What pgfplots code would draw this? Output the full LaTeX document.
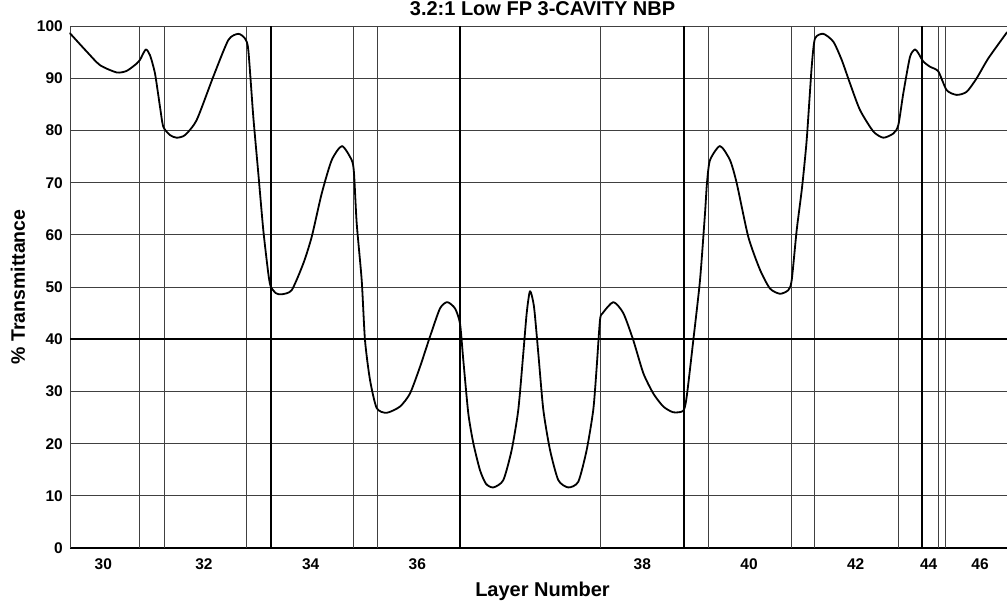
\documentclass[border=0pt]{standalone}
\usepackage{pgfplots}
\pgfplotsset{compat=1.18}
\usepackage{fontspec}
\setmainfont{Liberation Sans}
\begin{document}
\begin{tikzpicture}
\begin{axis}[
  scale only axis,
  width=937pt, height=522pt,
  xmin=70, xmax=1007, ymin=0, ymax=100,
  axis x line=bottom, axis y line=left,
  x axis line style={-, line width=1.6pt, black},
  y axis line style={-, line width=0.9pt, black!75},
  major tick length=0pt,
  ytick={0,10,...,100},
  xtick={103.3,204,310.7,417.3,642.3,749,855.7,928.7,980},
  xticklabels={30,32,34,36,38,40,42,44,46},
  extra x ticks={139.7,164,246.7,353.7,377.7,600.7,708,791,814.7,898.3,938.3,945.3},
  extra x tick labels={},
  extra x tick style={grid=major, major grid style={black!75, line width=0.9pt}},
  ymajorgrids,
  major grid style={black!75, line width=0.9pt},
  /pgf/number format/assume math mode=true,
  ticklabel style={font=\bfseries\fontsize{15.5}{16}\selectfont, inner sep=0pt, text height=11pt, text depth=0pt},
  yticklabel style={anchor=east, xshift=-7pt},
  xticklabel style={anchor=north, yshift=-10pt},
  title={3.2:1 Low FP 3-CAVITY NBP},
  title style={font=\bfseries\fontsize{20}{22}\selectfont, at={(axis description cs:0.5,1)}, anchor=center, yshift=11.5pt, xshift=4pt, inner sep=0pt},
  xlabel={Layer Number},
  ylabel={\% Transmittance},
  every axis x label/.style={at={(axis description cs:0.5,0)}, anchor=center, yshift=-43pt, xshift=4pt, font=\bfseries\fontsize{20}{22}\selectfont, inner sep=0pt},
  every axis y label/.style={at={(axis description cs:0,0.5)}, rotate=90, anchor=center, yshift=52pt, font=\bfseries\fontsize{19.5}{21}\selectfont, inner sep=0pt},
  clip=false,
]
% thick vertical lines
\addplot[black, line width=1.8pt, forget plot] coordinates {(270.7,0) (270.7,100)};
\addplot[black, line width=1.8pt, forget plot] coordinates {(460.3,0) (460.3,100)};
\addplot[black, line width=1.8pt, forget plot] coordinates {(684.3,0) (684.3,100)};
\addplot[black, line width=1.8pt, forget plot] coordinates {(921.7,0) (921.7,100)};
% thick horizontal line at 40
\addplot[black, line width=1.8pt, forget plot] coordinates {(70,40) (1007,40)};
% transmittance curve
\addplot[black, line width=1.8pt, line join=round, line cap=round, smooth, tension=0.4] coordinates {
(70,98.6) (86.7,95.1) (100,92.5) (116.7,91.1) (126.7,91.4) (136.7,92.8) (140,93.5)
(145.7,95.5) (150,94.4) (155,90.9) (160,84.5) (163.3,80.7) (170,79.1) (176.7,78.6)
(185,79.1) (196.7,82.0) (213.3,90.3) (228.3,97.3) (238.3,98.5) (245,97.6) (248.3,95.4)
(253.3,82.6) (258.3,71.8) (263.3,60.9) (268.3,52.6) (270.7,50.1) (276,48.8) (281.7,48.6)
(291.7,49.4) (303.3,54.5) (311.7,59.6) (321.7,67.9) (331.7,74.3) (342,77.0) (351.7,74.3)
(354,71.8) (356.7,62.2) (361.7,51.3) (365,39.8) (370,32.2) (376.7,26.8) (386.7,25.9)
(400,27.1) (410,29.6) (420,34.7) (430,40.5) (440,45.9) (447.3,47.1) (455,45.9)
(460,43.0) (463.3,36.0) (468.3,25.8) (473.3,20.1) (480,14.9) (486,12.3) (493.3,11.6)
(503.3,13.0) (511.7,18.8) (518.3,26.5) (523.3,37.3) (526.7,45.0) (530,49.2) (534,46.2)
(538.3,37.3) (543.3,26.5) (550,18.8) (558.3,13.0) (568.3,11.6) (578.3,12.7) (586.7,18.8)
(593.3,26.5) (596.7,34.7) (600,43.7) (602.7,45.0) (613.3,47.1) (623.3,45.0) (633.3,39.8)
(643.3,33.5) (653.3,29.6) (663.3,27.1) (673.3,26.0) (683.3,26.3) (686.7,29.0) (693.3,39.8)
(700,51.3) (705,64.1) (707,70) (710,74.3) (720,77.0) (730,74.3) (736.7,69.9) (748.3,59.6)
(760,53.3) (770,49.7) (780,48.7) (788.3,49.4) (791.7,51.3) (796.7,60.9) (802,69)
(806.7,78.2) (811.7,92.2) (815,97.6) (823.3,98.5) (833.3,97.0) (841.7,93.5) (850,89.0)
(860,83.9) (873.3,79.8) (883.3,78.6) (893.3,79.4) (898.3,81.0) (903.3,87.1) (910,94.1)
(915,95.5) (918.3,94.8) (923.3,93.2) (930,92.2) (938.3,91.3) (946.7,87.7) (956.7,86.8)
(966.7,87.4) (976.7,90.0) (988.3,93.8) (1007,98.8)
};
\end{axis}
\pgfresetboundingbox
\useasboundingbox ([xshift=-70pt,yshift=-54pt]current axis.south west) rectangle ([yshift=26pt]current axis.north east);
\end{tikzpicture}
\end{document}
